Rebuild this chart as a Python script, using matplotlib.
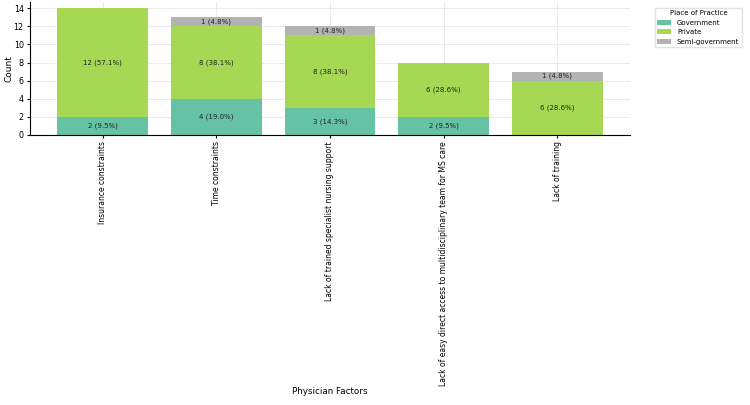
import matplotlib
matplotlib.use("Agg")
import matplotlib.pyplot as plt
import numpy as np

factors = ["Insurance constraints", "Time constraints",
           "Lack of trained specialist nursing support",
           "Lack of easy direct access to multidisciplinary team for MS care",
           "Lack of training"]
government = [2, 4, 3, 2, 0]
private = [12, 8, 8, 6, 6]
semi_government = [0, 1, 1, 0, 1]
total_physicians = 21
y_ticks = [0, 2, 4, 6, 8, 10, 12, 14]

series = [("Government", government, "#66c2a5"),
          ("Private", private, "#a6d854"),
          ("Semi-government", semi_government, "#b3b3b3")]

fig = plt.figure(figsize=(7.5, 4.05), dpi=100)
ax = fig.add_axes([0.04, 0.667, 0.80, 0.328])

x = np.arange(len(factors))
bottom = np.zeros(len(factors))
for name, vals, color in series:
    vals = np.array(vals)
    ax.bar(x, vals, 0.8, bottom=bottom, color=color, label=name, zorder=2)
    for xi, v, b in zip(x, vals, bottom):
        if v > 0:
            ax.text(xi, b + v / 2, f"{v} ({v / total_physicians * 100:.1f}%)",
                    ha="center", va="center", fontsize=5, color="#222222", zorder=3)
    bottom += vals

ax.set_xticks(x)
ax.set_xticklabels(factors, rotation=90)
ax.set_yticks(y_ticks)
ax.set_ylim(0, 14.7)
ax.tick_params(axis="both", labelsize=5.8, length=2.5, pad=2)
ax.tick_params(axis="x", labelsize=5.5)
ax.set_ylabel("Count", fontsize=6.5)
ax.yaxis.set_label_coords(-0.027, 0.5)
ax.set_xlabel("Physician Factors", fontsize=6.3)
ax.xaxis.set_label_coords(0.5, -1.9)
ax.grid(True, color="#e6e6e6", linewidth=0.6, zorder=0)
ax.set_axisbelow(True)
for s in ["top", "right"]:
    ax.spines[s].set_visible(False)

leg = ax.legend(title="Place of Practice", loc="upper right",
                bbox_to_anchor=(0.994, 0.99), bbox_transform=fig.transFigure,
                fontsize=5, title_fontsize=5, frameon=True)
leg.get_frame().set_edgecolor("#dddddd")

fig.savefig("out.png", dpi=100)
